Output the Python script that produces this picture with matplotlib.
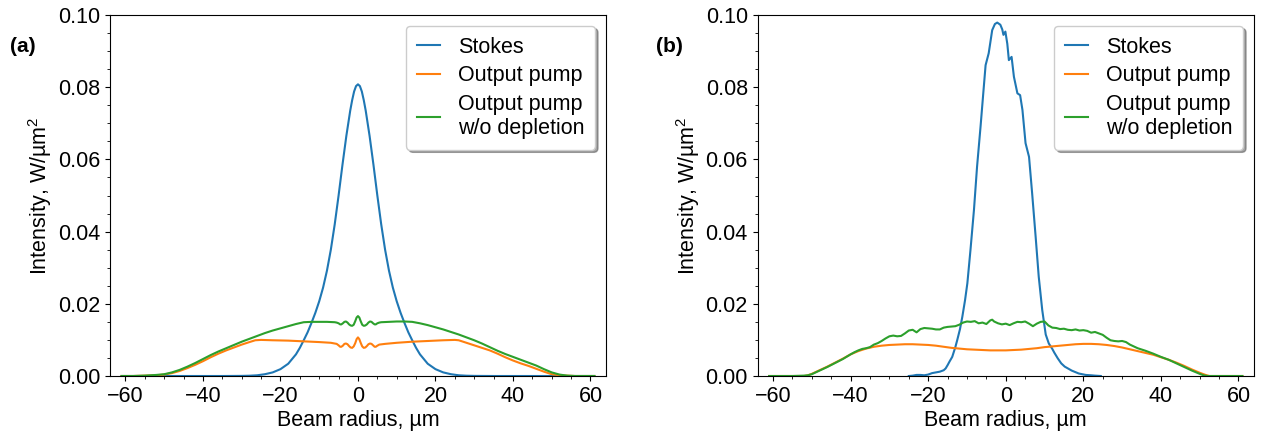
import matplotlib
matplotlib.use("Agg")
import matplotlib.pyplot as plt
from matplotlib.ticker import MultipleLocator

plt.rcParams['font.family'] = ['Liberation Sans', 'DejaVu Sans']
plt.rcParams['mathtext.fontset'] = 'custom'
plt.rcParams['mathtext.rm'] = 'Liberation Sans'
plt.rcParams['mathtext.it'] = 'Liberation Sans:italic'
plt.rcParams['font.size'] = 15.5

# ---------------- Panel (a) data ----------------
a_stokes_x = [-61, -50, -40, -35, -30, -28, -26, -24, -22, -20, -18, -16, -15, -14, -13, -12,
              -11, -10, -9, -8, -7, -6, -5, -4, -3, -2, -1.5, -1, -0.5, 0,
              0.5, 1, 1.5, 2, 3, 4, 5, 6, 7, 8, 9, 10, 11, 12, 13, 14, 15, 16, 18, 20, 22, 24, 26,
              28, 30, 35, 40, 50, 61]
a_stokes_y = [0, 0, 0, 0, 0.00003, 0.00008, 0.0002, 0.0005, 0.0010, 0.0019, 0.0034, 0.0060,
              0.0078, 0.0099, 0.0121, 0.0147, 0.0175, 0.0207, 0.0245, 0.0292, 0.0350, 0.0420,
              0.0500, 0.0585, 0.0665, 0.0735, 0.0764, 0.0788, 0.0803, 0.0808,
              0.0803, 0.0788, 0.0764, 0.0735, 0.0665, 0.0585, 0.0500, 0.0420, 0.0350, 0.0292,
              0.0245, 0.0207, 0.0175, 0.0147, 0.0121, 0.0099, 0.0078, 0.0060, 0.0034, 0.0019,
              0.0010, 0.0005, 0.0002, 0.00008, 0.00003, 0, 0, 0, 0]

a_pump_x = [-61, -58, -55, -52, -50, -48, -46, -44, -42, -40, -38, -36, -34, -32, -30, -28,
            -26.5, -25, -22, -18, -14, -10, -7,
            -5.5, -5.0, -4.6, -4.3, -3.9, -3.5, -3.1, -2.7, -2.3, -1.9, -1.5, -1.1, -0.7, -0.35,
            0, 0.35, 0.7, 1.1, 1.5, 1.9, 2.3, 2.7, 3.1, 3.5, 3.9, 4.3, 4.6, 5.0, 5.5,
            7, 10, 14, 18, 22, 25, 26, 28,
            30, 32, 34, 36, 38, 40, 42, 44, 46, 48, 50, 52, 54, 56, 61]
a_pump_y = [0, 0, 0.0001, 0.0002, 0.0004, 0.0008, 0.0014, 0.0022, 0.0031, 0.0041, 0.0052,
            0.0062, 0.0071, 0.0079, 0.0087, 0.0094, 0.0099, 0.0100, 0.0099, 0.0098, 0.0096,
            0.0094, 0.0092,
            0.0089, 0.0085, 0.0081, 0.0081, 0.0084, 0.0089, 0.0090, 0.0088, 0.0083, 0.0079,
            0.0078, 0.0082, 0.0091, 0.0102,
            0.0107, 0.0102, 0.0092, 0.0082, 0.0078, 0.0079, 0.0083, 0.0088, 0.0090, 0.0089,
            0.0085, 0.0081, 0.0081, 0.0084, 0.0087,
            0.0089, 0.0092, 0.0095, 0.0097, 0.0099, 0.0100, 0.0099, 0.0092, 0.0085, 0.0078,
            0.0071, 0.0062, 0.0052, 0.0043, 0.0035, 0.0028, 0.0020, 0.0012, 0.0005, 0.0002,
            0.0001, 0, 0]

a_nodep_x = [-61, -58, -55, -52, -50, -48, -46, -44, -42, -40, -38, -36, -34, -32, -30, -28,
             -26, -24, -22, -20, -18, -16, -14, -12, -10, -8, -6,
             -5.5, -5.0, -4.6, -4.3, -3.9, -3.5, -3.1, -2.7, -2.3, -1.9, -1.5, -1.1, -0.7, -0.35,
             0, 0.35, 0.7, 1.1, 1.5, 1.9, 2.3, 2.7, 3.1, 3.5, 3.9, 4.3, 4.6, 5.0, 5.5,
             6, 8, 10, 12, 14,
             16, 18, 20, 22, 24, 26, 28, 30, 32, 34, 36, 38, 40, 42, 44, 46, 48, 50, 52, 54,
             56, 61]
a_nodep_y = [0, 0, 0.0001, 0.0003, 0.0005, 0.0010, 0.0017, 0.0026, 0.0036, 0.0047, 0.0058,
             0.0068, 0.0077, 0.0086, 0.0095, 0.0103, 0.0111, 0.0119, 0.0126, 0.0132, 0.0138,
             0.0144, 0.0149, 0.0150, 0.0150, 0.0150, 0.0149,
             0.0148, 0.0146, 0.0143, 0.0143, 0.0146, 0.0150, 0.0151, 0.0148, 0.0143, 0.0140,
             0.0139, 0.0142, 0.0152, 0.0162,
             0.0166, 0.0162, 0.0152, 0.0142, 0.0139, 0.0140, 0.0143, 0.0148, 0.0151, 0.0150,
             0.0146, 0.0143, 0.0143, 0.0146, 0.0148,
             0.0149, 0.0150, 0.0151, 0.0151, 0.0150, 0.0146, 0.0141,
             0.0135, 0.0129, 0.0122, 0.0115, 0.0107, 0.0099, 0.0090, 0.0080, 0.0070, 0.0061,
             0.0053, 0.0045, 0.0037, 0.0029, 0.0019, 0.0010, 0.0004, 0.0001, 0, 0]

# ---------------- Panel (b) data ----------------
b_stokes_x = [-25, -24, -23, -22, -21, -20, -19, -18, -17, -16, -15.5, -15, -14.5, -13.8, -13,
              -12.5, -11.8, -11.2, -10.5, -9.9, -9.1, -8.2, -7.4, -6.5, -5.8, -5.2, -4.4, -3.5,
              -2.8, -2.2, -1.4, -0.9, -0.6, -0.1, 0.4, 0.8, 1.5, 2.1, 3.0, 3.7, 4.3, 5.1, 6.0,
              6.8, 7.7, 8.5, 9.4, 10.3, 11.1, 12.0, 12.5, 13.4, 14.3, 15.2, 17, 18.8, 20.6, 22,
              23, 24.5]
b_stokes_y = [0, 0.0001, 0.0003, 0.0003, 0.0002, 0.0004, 0.0008, 0.0010, 0.0012, 0.0016,
              0.0021, 0.0030, 0.0040, 0.0053, 0.0080, 0.0100, 0.0130, 0.0164, 0.0210, 0.0257,
              0.0349, 0.0460, 0.0580, 0.0691, 0.0783, 0.0861, 0.0894, 0.0958, 0.0975, 0.0979,
              0.0973, 0.0960, 0.0945, 0.0954, 0.0920, 0.0875, 0.0884, 0.0829, 0.0783, 0.0778,
              0.0737, 0.0645, 0.0607, 0.0506, 0.0386, 0.0275, 0.0183, 0.0115, 0.0090, 0.0075,
              0.0065, 0.0049, 0.0035, 0.0026, 0.0015, 0.0007, 0.0003, 0.0002, 0.0001, 0]

b_pump_x = [-61, -52, -51, -50, -48, -46, -44, -42, -40, -38, -36, -34, -32, -30, -28, -26,
            -24, -22, -20, -18, -16, -14, -12, -10, -8, -6, -4, -2, 0, 2, 4, 6, 8, 10, 12, 14,
            16, 18, 20, 22, 24, 26, 28, 30, 32, 34, 36, 38, 40, 42, 44, 46, 48, 50, 51.5,
            52.5, 61]
b_pump_y = [0, 0, 0.0002, 0.0006, 0.0016, 0.0026, 0.0037, 0.0048, 0.0060, 0.0069, 0.0076,
            0.0081, 0.0084, 0.0086, 0.0087, 0.0088, 0.0088, 0.0087, 0.0086, 0.0084, 0.0081,
            0.0078, 0.0076, 0.0074, 0.0073, 0.0072, 0.0071, 0.0071, 0.0071, 0.0072, 0.0073,
            0.0075, 0.0077, 0.0080, 0.0082, 0.0084, 0.0086, 0.0088, 0.0089, 0.0089, 0.0088,
            0.0086, 0.0083, 0.0079, 0.0074, 0.0069, 0.0064, 0.0059, 0.0052, 0.0045, 0.0037,
            0.0028, 0.0018, 0.0009, 0.0003, 0, 0]

b_nodep_x = [-61, -55, -52, -51, -50, -48, -46, -44, -42, -40, -39, -38, -37, -36, -35, -34,
             -33, -32, -31, -30, -29, -28, -27, -26, -25, -24, -23, -22, -21, -20, -19, -18,
             -17, -16, -15, -14, -13, -12, -11, -10, -9, -8, -7, -6, -5, -4, -3.5, -3, -2,
             -1, 0, 1, 2, 3, 4, 5, 6, 7, 8, 9, 10, 11, 12, 13, 14, 15, 16, 17, 18, 19, 20,
             21, 22, 23, 24, 25, 26, 27, 28, 29, 30, 31, 32, 33, 34, 36, 38, 40, 42, 44, 46,
             48, 50, 51, 52, 61]
b_nodep_y = [0, 0, 0.0001, 0.0002, 0.0005, 0.0015, 0.0025, 0.0036, 0.0047, 0.0060, 0.0066,
             0.0071, 0.0075, 0.0077, 0.0080, 0.0087, 0.0091, 0.0097, 0.0104, 0.0110, 0.0112,
             0.0110, 0.0111, 0.0118, 0.0126, 0.0128, 0.0121, 0.0130, 0.0133, 0.0132, 0.0131,
             0.0129, 0.0129, 0.0134, 0.0136, 0.0137, 0.0138, 0.0142, 0.0148, 0.0151, 0.0150,
             0.0152, 0.0146, 0.0148, 0.0144, 0.0154, 0.0156, 0.0151, 0.0146, 0.0143, 0.0145,
             0.0141, 0.0146, 0.0150, 0.0149, 0.0151, 0.0145, 0.0138, 0.0145, 0.0150, 0.0151,
             0.0140, 0.0134, 0.0133, 0.0130, 0.0131, 0.0128, 0.0127, 0.0129, 0.0126, 0.0127,
             0.0125, 0.0120, 0.0122, 0.0118, 0.0114, 0.0106, 0.0099, 0.0097, 0.0096, 0.0097,
             0.0094, 0.0087, 0.0082, 0.0077, 0.0070, 0.0062, 0.0053, 0.0045, 0.0035, 0.0025,
             0.0015, 0.0006, 0.0002, 0, 0]

series_labels = ["Stokes", "Output pump", "Output pump\nw/o depletion"]
colors = ["#1f77b4", "#ff7f0e", "#2ca02c"]
panel_labels = ["(a)", "(b)"]

fig = plt.figure(figsize=(12.64, 4.36), dpi=100)
ax_a = fig.add_axes([0.0870, 0.1376, 0.3924, 0.8280])
ax_b = fig.add_axes([0.5993, 0.1376, 0.3928, 0.8280])

panels = [
    (ax_a, (a_stokes_x, a_stokes_y), (a_pump_x, a_pump_y), (a_nodep_x, a_nodep_y)),
    (ax_b, (b_stokes_x, b_stokes_y), (b_pump_x, b_pump_y), (b_nodep_x, b_nodep_y)),
]

for ax, s, p, n in panels:
    ax.plot(s[0], s[1], color=colors[0], lw=1.5, label=series_labels[0])
    ax.plot(p[0], p[1], color=colors[1], lw=1.5, label=series_labels[1])
    ax.plot(n[0], n[1], color=colors[2], lw=1.5, label=series_labels[2])
    ax.set_xlim(-64, 64)
    ax.set_ylim(0, 0.1)
    ax.xaxis.set_major_locator(MultipleLocator(20))
    ax.xaxis.set_minor_locator(MultipleLocator(5))
    ax.yaxis.set_major_locator(MultipleLocator(0.02))
    ax.yaxis.set_minor_locator(MultipleLocator(0.005))
    ax.set_xlabel("Beam radius, µm", labelpad=2)
    ax.set_ylabel("Intensity, W/µm$^2$", labelpad=2.5)
    ax.legend(loc="upper right", shadow=True, fancybox=True, framealpha=1,
              borderpad=0.5, labelspacing=0.35, handlelength=1.07, handletextpad=0.84)

fig.text(0.008, 0.893, panel_labels[0], fontweight="bold", fontsize=15, va="center")
fig.text(0.519, 0.893, panel_labels[1], fontweight="bold", fontsize=15, va="center")

fig.savefig("out.png", dpi=100)
